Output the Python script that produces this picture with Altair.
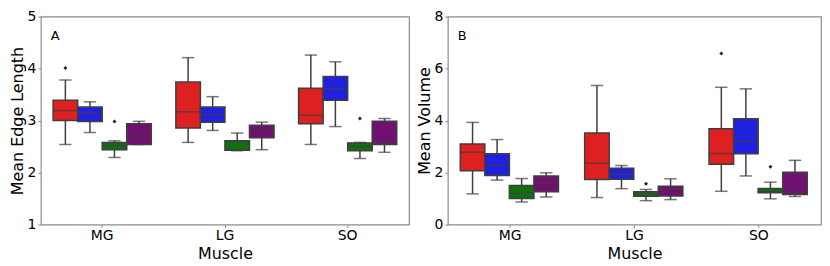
import altair as alt
import pandas as pd

muscles = ["MG", "LG", "SO"]
groups = ["G1", "G2", "G3", "G4"]
colors = ["#df2020", "#2020df", "#107010", "#701070"]

# Mean Edge Length (order: MG G1..G4, LG G1..G4, SO G1..G4)
edge_lo = [2.54, 2.77, 2.29, 2.54, 2.58, 2.81, 2.42, 2.44, 2.54, 2.885, 2.27, 2.39]
edge_q1 = [3.00, 2.98, 2.44, 2.54, 2.855, 2.97, 2.43, 2.67, 2.94, 3.39, 2.42, 2.54]
edge_med = [3.19, 3.15, 2.52, 2.71, 3.17, 3.115, 2.60, 2.83, 3.10, 3.61, 2.50, 2.58]
edge_q3 = [3.39, 3.26, 2.58, 2.94, 3.74, 3.26, 2.61, 2.91, 3.62, 3.85, 2.57, 2.985]
edge_hi = [3.78, 3.36, 2.61, 2.985, 4.21, 3.46, 2.76, 2.97, 4.26, 4.13, 2.58, 3.04]
edge_out_muscle = ["MG", "MG", "SO"]
edge_out_group = ["G1", "G3", "G3"]
edge_out_value = [4.01, 2.98, 3.04]

# Mean Volume
vol_lo = [1.18, 1.71, 0.87, 1.06, 1.04, 1.38, 0.92, 0.96, 1.28, 1.87, 0.99, 1.08]
vol_q1 = [2.07, 1.89, 1.00, 1.26, 1.73, 1.74, 1.09, 1.10, 2.32, 2.72, 1.22, 1.16]
vol_med = [2.78, 2.28, 1.21, 1.61, 2.36, 1.94, 1.18, 1.38, 2.73, 3.20, 1.26, 1.24]
vol_q3 = [3.10, 2.72, 1.50, 1.87, 3.52, 2.17, 1.26, 1.47, 3.69, 4.07, 1.39, 2.01]
vol_hi = [3.93, 3.27, 1.77, 1.99, 5.35, 2.27, 1.35, 1.76, 5.28, 5.22, 1.63, 2.47]
vol_out_muscle = ["LG", "SO", "SO"]
vol_out_group = ["G3", "G1", "G3"]
vol_out_value = [1.57, 6.58, 2.22]

W1, W2, H = 370, 375, 209
EDGE = "#3f3f3f"


def stats_df(lo, q1, med, q3, hi):
    rows = []
    i = 0
    for m in muscles:
        for g in groups:
            rows.append(dict(muscle=m, group=g, lo=lo[i], q1=q1[i], med=med[i], q3=q3[i], hi=hi[i]))
            i += 1
    return pd.DataFrame(rows)


def panel(df, out_df, letter, ytitle, domain, ticks, width):
    box_w = width / 3 * 0.8 / 4
    x = alt.X("muscle:N", sort=muscles, title="Muscle",
              scale=alt.Scale(paddingInner=0.2, paddingOuter=0.1),
              axis=alt.Axis(labelAngle=0, titlePadding=3, labelPadding=1))
    xo = alt.XOffset("group:N", sort=groups, scale=alt.Scale(paddingInner=0, paddingOuter=0))
    yscale = alt.Scale(domain=domain, nice=False, zero=False)
    yaxis = alt.Axis(values=ticks, grid=False, title=ytitle, titlePadding=2, labelPadding=2)
    base = alt.Chart(df)
    whisk = base.mark_rule(color=EDGE, strokeWidth=1.5).encode(
        x=x, xOffset=xo, y=alt.Y("lo:Q", scale=yscale, axis=yaxis), y2="hi:Q")
    box = base.mark_bar(stroke=EDGE, strokeWidth=1.5, opacity=1).encode(
        x=x, xOffset=xo, y=alt.Y("q1:Q", scale=yscale, axis=yaxis), y2="q3:Q",
        color=alt.Color("group:N", sort=groups, scale=alt.Scale(domain=groups, range=colors), legend=None))
    med = base.mark_tick(color=EDGE, thickness=1.5, size=box_w, orient="horizontal").encode(
        x=x, xOffset=xo, y=alt.Y("med:Q", scale=yscale, axis=yaxis))
    cap_lo = base.mark_tick(color=EDGE, thickness=1.5, size=box_w / 2, orient="horizontal").encode(
        x=x, xOffset=xo, y=alt.Y("lo:Q", scale=yscale, axis=yaxis))
    cap_hi = base.mark_tick(color=EDGE, thickness=1.5, size=box_w / 2, orient="horizontal").encode(
        x=x, xOffset=xo, y=alt.Y("hi:Q", scale=yscale, axis=yaxis))
    outl = alt.Chart(out_df).mark_point(shape="diamond", filled=True, color="#222222", size=16, opacity=1).encode(
        x=x, xOffset=xo, y=alt.Y("value:Q", scale=yscale, axis=yaxis))
    lab = alt.Chart(pd.DataFrame({"label": [letter]})).mark_text(
        align="left", baseline="top", fontSize=13, font="DejaVu Sans", color="black").encode(
        x=alt.value(10), y=alt.value(14), text="label:N")
    return alt.layer(whisk, box, med, cap_lo, cap_hi, outl, lab).properties(width=width, height=H)


edge_df = stats_df(edge_lo, edge_q1, edge_med, edge_q3, edge_hi)
vol_df = stats_df(vol_lo, vol_q1, vol_med, vol_q3, vol_hi)
edge_out = pd.DataFrame({"muscle": edge_out_muscle, "group": edge_out_group, "value": edge_out_value})
vol_out = pd.DataFrame({"muscle": vol_out_muscle, "group": vol_out_group, "value": vol_out_value})

pA = panel(edge_df, edge_out, "A", "Mean Edge Length", [1, 5], [1, 2, 3, 4, 5], W1)
pB = panel(vol_df, vol_out, "B", "Mean Volume", [0, 8], [0, 2, 4, 6, 8], W2)

chart = alt.hconcat(pA, pB, spacing=5).resolve_scale(y="independent").properties(
    padding=0
).configure_view(
    stroke="#8c8c8c", strokeWidth=1.2
).configure_axis(
    labelFont="DejaVu Sans", titleFont="DejaVu Sans", labelFontSize=14, titleFontSize=16,
    labelColor="black", titleColor="black", titleFontWeight="normal",
    domain=False, tickColor="#8c8c8c", tickSize=3,
)

chart.save("out.html", embed_options={"renderer": "svg", "actions": False})
